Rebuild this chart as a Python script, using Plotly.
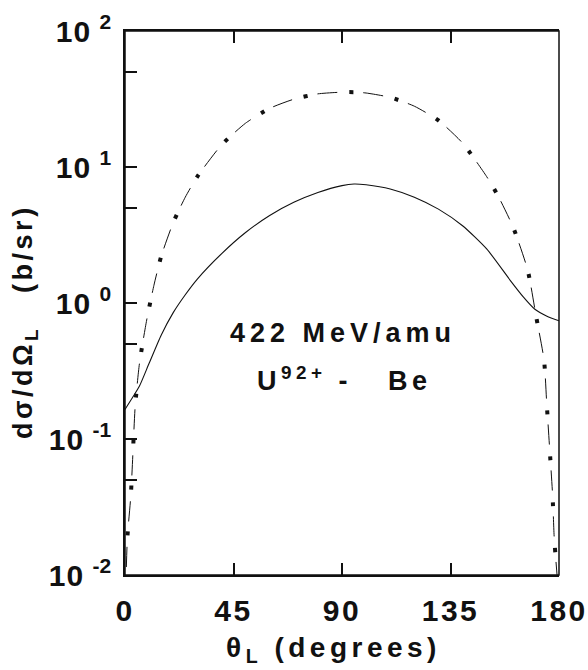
import plotly.graph_objects as go

# ---- data ----
theta_solid = [0, 3, 6, 10, 15, 20, 25, 30, 40, 50, 60, 70, 80, 90, 95, 100,
               110, 120, 130, 140, 150, 160, 165, 170, 175, 180]
sigma_solid = [0.165, 0.20, 0.245, 0.36, 0.58, 0.85, 1.15, 1.5, 2.3, 3.3, 4.4,
               5.5, 6.5, 7.3, 7.5, 7.4, 6.9, 6.0, 4.9, 3.7, 2.5, 1.45, 1.12,
               0.9, 0.8, 0.74]

theta_dashdot = [0.4, 1.0, 2.4, 3.3, 4.2, 6.0, 9.0, 12, 15, 20, 25, 30, 40, 50,
                 60, 70, 80, 90, 95, 100, 110, 120, 130, 140, 150, 155, 161,
                 167, 170.5, 173.8, 174.9, 176.1, 177.3, 178.0, 179.4]
sigma_dashdot = [0.009, 0.019, 0.038, 0.08, 0.172, 0.36, 0.75, 1.35, 2.2, 3.9,
                 6.0, 8.5, 14.5, 21, 27, 31.5, 34.5, 35.5, 35.5, 35, 32.5, 28,
                 22, 15, 8.5, 6.0, 3.6, 1.75, 0.8, 0.38, 0.184, 0.086, 0.040,
                 0.019, 0.009]

x_tick_vals = [0, 45, 90, 135, 180]
x_tick_text = ["0", "45", "90", "135", "180"]
y_major_vals = [0.01, 0.1, 1, 10, 100]
y_major_exp = ["-2", "-1", "0", "1", "2"]
y_minor_vals = [0.05, 0.5, 5, 50]

FONT = "Liberation Sans"
INK = "#111"


def spaced(s, px):
    return f"<span style='letter-spacing:{px}px'>{s}</span>"


y_tick_vals = y_major_vals + y_minor_vals
y_tick_text = [spaced("10", 1) + "&nbsp;<sup>" + e + "</sup>" for e in y_major_exp] + [""] * len(y_minor_vals)

fig = go.Figure()
fig.add_trace(go.Scatter(x=theta_solid, y=sigma_solid, mode="lines",
                         line=dict(color=INK, width=1.1, shape="spline", smoothing=0.6),
                         hoverinfo="skip"))
# dash-dot curve: thin dashes + bold dots sharing one period
fig.add_trace(go.Scatter(x=theta_dashdot, y=sigma_dashdot, mode="lines",
                         line=dict(color=INK, width=1.0, shape="spline", smoothing=0.6,
                                   dash="0px,14px,20px,12px"),
                         hoverinfo="skip"))
fig.add_trace(go.Scatter(x=theta_dashdot, y=sigma_dashdot, mode="lines",
                         line=dict(color=INK, width=4, shape="spline", smoothing=0.6,
                                   dash="4px,42px"),
                         hoverinfo="skip"))

axis_common = dict(showgrid=False, zeroline=False, showline=True, linecolor=INK,
                   linewidth=1.5, ticks="inside", tickcolor=INK, tickwidth=1.5,
                   ticklen=12, automargin=False)

fig.update_xaxes(range=[0, 180], tickvals=x_tick_vals,
                 ticktext=[spaced(t, 2.5) for t in x_tick_text],
                 tickfont=dict(family=FONT, size=30, color=INK, weight="bold"),
                 ticklabelstandoff=8, mirror="ticks", ticklabeloverflow="allow",
                 **axis_common)
fig.update_layout(
    yaxis=dict(type="log", range=[-2, 2], tickvals=y_tick_vals, ticktext=y_tick_text,
               tickfont=dict(family=FONT, size=30, color=INK, weight="bold"),
               ticklabelstandoff=6, mirror=False, **axis_common),
    yaxis2=dict(type="log", range=[-2, 2], tickvals=y_tick_vals, showticklabels=False,
                overlaying="y", side="right", anchor="x", **axis_common),
)
fig.add_shape(type="rect", xref="paper", yref="paper", x0=0, x1=1, y0=0, y1=1,
              line=dict(color=INK, width=1.5), layer="above")

ann_font = dict(family=FONT, size=27, color=INK, weight="bold")
fig.add_annotation(xref="paper", yref="paper", x=0, y=0.465, xshift=-100,
                   text=spaced("dσ/dΩ<sub>L</sub>&nbsp;&nbsp;&nbsp;(b/sr)", 3.5),
                   textangle=-90, showarrow=False, xanchor="center", yanchor="middle",
                   font=ann_font)
fig.add_annotation(xref="paper", yref="paper", x=0.48, y=0, yshift=-74,
                   text=spaced("θ<sub>L</sub> (degrees)", 4.5),
                   showarrow=False, xanchor="center", yanchor="middle",
                   font=dict(family=FONT, size=28, color=INK, weight="bold"))
fig.add_annotation(xref="x", yref="y", x=90.5, y=-0.22,
                   text=spaced("422 MeV/amu", 5), showarrow=False,
                   xanchor="center", yanchor="middle", font=ann_font)
fig.add_annotation(xref="x", yref="y", x=91, y=-0.56,
                   text=spaced("U<sup>92+</sup>&nbsp;-&nbsp;&nbsp;&nbsp;Be", 4.5),
                   showarrow=False, xanchor="center", yanchor="middle", font=ann_font)

fig.update_layout(width=588, height=670, margin=dict(l=125, r=29, t=31, b=95),
                  paper_bgcolor="white", plot_bgcolor="white", showlegend=False)

fig.write_html("out.html")
